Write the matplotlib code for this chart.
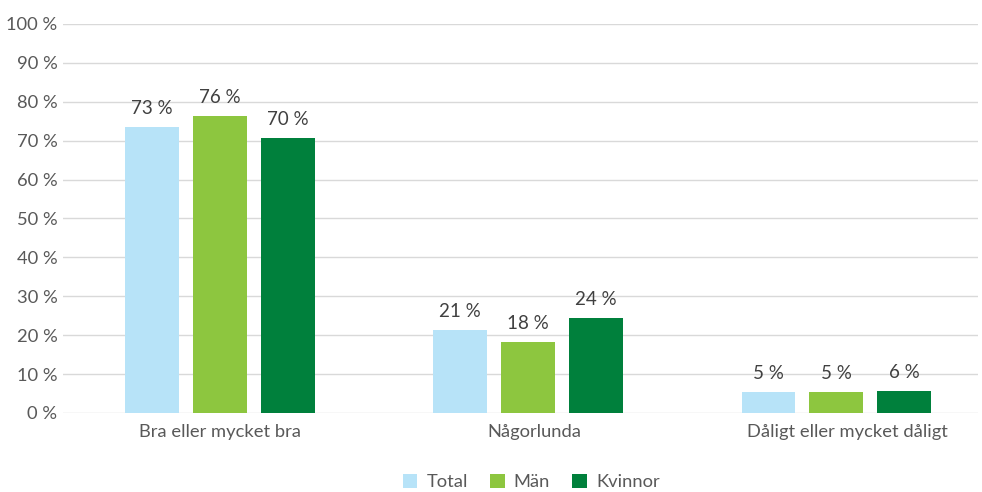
import matplotlib.pyplot as plt
import numpy as np

plt.rcParams['font.family'] = ['Lato', 'DejaVu Sans']

categories = ['Bra eller mycket bra', 'Någorlunda', 'Dåligt eller mycket dåligt']
series = ['Total', 'Män', 'Kvinnor']
values = {
    'Total': [73.6, 21.3, 5.4],
    'Män': [76.4, 18.3, 5.4],
    'Kvinnor': [70.6, 24.4, 5.6],
}
labels = {
    'Total': ['73 %', '21 %', '5 %'],
    'Män': ['76 %', '18 %', '5 %'],
    'Kvinnor': ['70 %', '24 %', '6 %'],
}
colors = {'Total': '#b7e3f8', 'Män': '#8dc63f', 'Kvinnor': '#00803c'}

fig = plt.figure(figsize=(9.82, 4.92), dpi=100)
ax = fig.add_axes([0.064, 0.1606, 0.932, 0.7907])

x = np.arange(len(categories))
width = 0.175
step = 0.22
for i, s in enumerate(series):
    pos = x + (i - 1) * step
    ax.bar(pos, values[s], width, color=colors[s], label=s, zorder=3)
    for px, v, t in zip(pos, values[s], labels[s]):
        ax.text(px, v + 2.6, t, ha='center', va='bottom', fontsize=13.5, color='#404040')

ax.set_ylim(0, 100)
ax.set_xlim(-0.51, 2.46)
ax.set_yticks(range(0, 101, 10))
ax.set_yticklabels([f'{v} %' for v in range(0, 101, 10)])
ax.set_xticks(x + np.array([0.0, 0.02, 0.035]))
ax.set_xticklabels(categories)
ax.tick_params(axis='both', length=0, labelsize=13.2, labelcolor='#595959')
ax.tick_params(axis='y', pad=4)
ax.tick_params(axis='x', pad=8)
ax.grid(axis='y', color='#d9d9d9', linewidth=1, zorder=0)
for sp in ax.spines.values():
    sp.set_visible(False)

leg = fig.legend(loc='lower center', bbox_to_anchor=(0.541, -0.03), ncol=3, frameon=False,
                 fontsize=13.2, handlelength=0.8, handleheight=0.8, columnspacing=1.2,
                 handletextpad=0.5)
for t in leg.get_texts():
    t.set_color('#595959')

fig.savefig('out.png', dpi=100)
